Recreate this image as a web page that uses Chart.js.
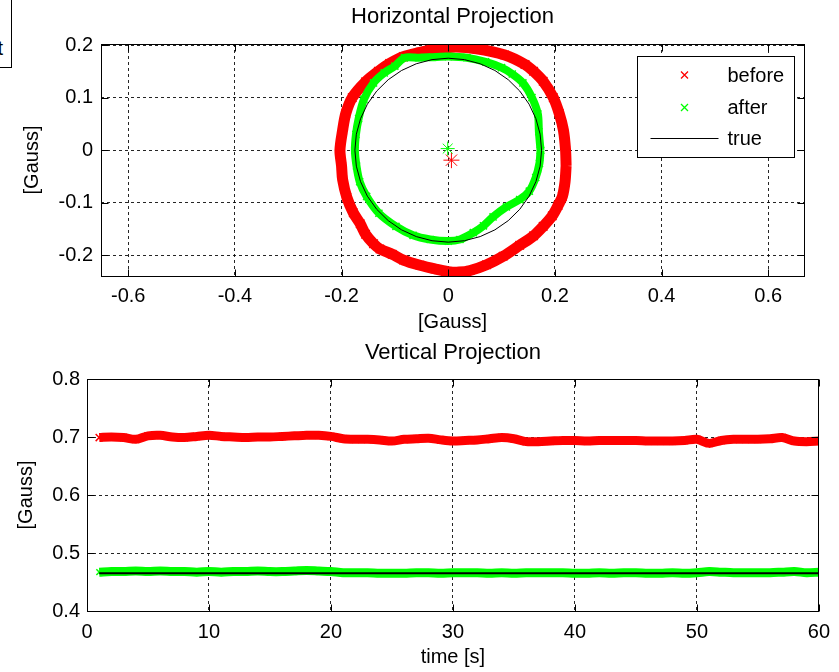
<!DOCTYPE html>
<html>
<head>
<meta charset="utf-8">
<script src="https://cdn.jsdelivr.net/npm/chart.js@4.4.0/dist/chart.umd.min.js"></script>
<style>
html,body{margin:0;padding:0;background:#fff;width:839px;height:672px;overflow:hidden;position:relative;}
#c1{position:absolute;left:0;top:0;}
#c2{position:absolute;left:0;top:336px;}
#tb{position:absolute;left:-88px;top:-2px;width:100px;height:70px;box-sizing:border-box;border:1px solid #000;
  font:20px "Liberation Sans",Arial,sans-serif;text-align:right;padding-right:8px;padding-top:37px;line-height:24px;color:#000;background:#fff;}
</style>
</head>
<body>
<div id="tb">t</div>
<canvas id="c1" width="839" height="336"></canvas>
<canvas id="c2" width="839" height="336"></canvas>
<script>
// ---------- Top plot: Horizontal Projection ----------
const topXTicks = [-0.6, -0.4, -0.2, 0, 0.2, 0.4, 0.6];
const topYTicks = [-0.2, -0.1, 0, 0.1, 0.2];

const beforeX = [0.221, 0.220, 0.216, 0.208, 0.197, 0.178, 0.160, 0.144, 0.106, 0.053, 0.009, -0.030, -0.053, -0.084, -0.110, -0.131, -0.155, -0.180, -0.192, -0.198, -0.203, -0.200, -0.198, -0.190, -0.178, -0.165, -0.155, -0.140, -0.128, -0.105, -0.084, -0.053, -0.025, 0.000, 0.020, 0.041, 0.072, 0.103, 0.134, 0.160, 0.178, 0.195, 0.206, 0.214, 0.219, 0.221];
const beforeY = [-0.030, 0.000, 0.038, 0.070, 0.100, 0.131, 0.150, 0.163, 0.181, 0.193, 0.196, 0.191, 0.186, 0.178, 0.165, 0.150, 0.130, 0.100, 0.070, 0.038, 0.000, -0.030, -0.056, -0.090, -0.119, -0.140, -0.160, -0.178, -0.188, -0.198, -0.209, -0.219, -0.226, -0.231, -0.232, -0.229, -0.218, -0.202, -0.181, -0.163, -0.145, -0.125, -0.105, -0.088, -0.060, -0.030];

const afterX = [0.173, 0.170, 0.168, 0.157, 0.140, 0.120, 0.100, 0.070, 0.035, 0.000, -0.030, -0.055, -0.082, -0.100, -0.120, -0.140, -0.158, -0.168, -0.173, -0.175, -0.172, -0.166, -0.153, -0.130, -0.098, -0.066, -0.034, 0.000, 0.022, 0.047, 0.066, 0.084, 0.109, 0.134, 0.152, 0.164, 0.171, 0.173];
const afterY = [0.000, 0.035, 0.069, 0.100, 0.128, 0.145, 0.157, 0.168, 0.176, 0.178, 0.177, 0.176, 0.176, 0.160, 0.147, 0.128, 0.097, 0.060, 0.030, 0.000, -0.030, -0.060, -0.088, -0.120, -0.145, -0.162, -0.170, -0.173, -0.170, -0.157, -0.144, -0.127, -0.108, -0.094, -0.078, -0.052, -0.025, 0.000];

const trueX = [0.175, 0.1723, 0.1644, 0.1516, 0.1341, 0.1125, 0.0875, 0.0599, 0.0304, 0, -0.0304, -0.0599, -0.0875, -0.1125, -0.1341, -0.1516, -0.1644, -0.1723, -0.175, -0.1723, -0.1644, -0.1516, -0.1341, -0.1125, -0.0875, -0.0599, -0.0304, 0, 0.0304, 0.0599, 0.0875, 0.1125, 0.1341, 0.1516, 0.1644, 0.1723, 0.175];
const trueY = [0, 0.0304, 0.0599, 0.0875, 0.1125, 0.1341, 0.1516, 0.1644, 0.1723, 0.175, 0.1723, 0.1644, 0.1516, 0.1341, 0.1125, 0.0875, 0.0599, 0.0304, 0, -0.0304, -0.0599, -0.0875, -0.1125, -0.1341, -0.1516, -0.1644, -0.1723, -0.175, -0.1723, -0.1644, -0.1516, -0.1341, -0.1125, -0.0875, -0.0599, -0.0304, 0];

const beforeCenter = [0.006, -0.019];
const afterCenter = [-0.001, 0.003];

// ---------- Bottom plot: Vertical Projection ----------
const bottomXTicks = [0, 10, 20, 30, 40, 50, 60];
const bottomYTicks = [0.4, 0.5, 0.6, 0.7, 0.8];
const timeS = [1,2,3,4,5,6,7,8,9,10,11,12,13,14,15,16,17,18,19,20,21,22,23,24,25,26,27,28,29,30,31,32,33,34,35,36,37,38,39,40,41,42,43,44,45,46,47,48,49,50,51,52,53,54,55,56,57,58,59,60];
const vBefore = [0.699,0.700,0.699,0.696,0.702,0.703,0.700,0.699,0.701,0.703,0.701,0.700,0.699,0.700,0.700,0.701,0.702,0.703,0.703,0.701,0.697,0.696,0.696,0.695,0.693,0.696,0.697,0.698,0.695,0.693,0.694,0.695,0.697,0.699,0.697,0.692,0.692,0.693,0.694,0.694,0.693,0.694,0.694,0.694,0.694,0.693,0.693,0.693,0.694,0.696,0.689,0.694,0.696,0.696,0.696,0.697,0.699,0.693,0.692,0.693];
const vAfter = [0.467,0.468,0.468,0.469,0.468,0.469,0.468,0.468,0.467,0.468,0.467,0.468,0.468,0.469,0.468,0.468,0.469,0.470,0.469,0.468,0.466,0.466,0.466,0.465,0.465,0.465,0.466,0.466,0.465,0.466,0.466,0.466,0.465,0.466,0.465,0.466,0.466,0.466,0.466,0.465,0.465,0.466,0.465,0.466,0.466,0.465,0.465,0.466,0.465,0.466,0.468,0.467,0.466,0.466,0.466,0.466,0.467,0.468,0.466,0.467];
const trueT = [1, 60];
const vTrue = [0.465, 0.465];

// ---------- helpers ----------
const FONT = '"Liberation Sans", Arial, Helvetica, sans-serif';
Chart.defaults.font.family = FONT;
Chart.defaults.font.size = 20;
Chart.defaults.color = '#000';
const RED = '#ff0000', GREEN = '#00ff00', BLACK = '#000000';
const pts = (xs, ys) => xs.map((x, i) => ({x: x, y: ys[i]}));
const fmt = v => String(+Number(v).toFixed(2));
const setTicks = arr => (s) => { s.ticks = arr.map(v => ({value: v})); };

const framePlugin = {
  id: 'frame',
  afterDraw(chart) {
    const {ctx, chartArea: a, scales} = chart;
    const L = Math.floor(a.left) + 0.5, R = Math.floor(a.right) + 0.5;
    const T = Math.floor(a.top) + 0.5, B = Math.floor(a.bottom) + 0.5;
    ctx.save();
    ctx.setLineDash([]);
    ctx.strokeStyle = '#000';
    ctx.lineWidth = 1;
    ctx.strokeRect(L, T, R - L, B - T);
    const tl = 7;
    ctx.beginPath();
    scales.x.ticks.forEach(t => {
      const p = Math.round(scales.x.getPixelForValue(t.value)) + 0.5;
      ctx.moveTo(p, B); ctx.lineTo(p, B - tl);
      ctx.moveTo(p, T); ctx.lineTo(p, T + tl);
    });
    scales.y.ticks.forEach(t => {
      const p = Math.round(scales.y.getPixelForValue(t.value)) + 0.5;
      ctx.moveTo(L, p); ctx.lineTo(L + tl, p);
      ctx.moveTo(R, p); ctx.lineTo(R - tl, p);
    });
    ctx.stroke();
    ctx.restore();
  }
};

const legendPlugin = {
  id: 'boxLegend',
  afterDraw(chart) {
    if (!chart.options.plugins.boxLegend || !chart.options.plugins.boxLegend.show) return;
    const {ctx, chartArea: a} = chart;
    const bw = 157, bh = 101;
    const bx = Math.round(a.right - 10 - bw) + 0.5, by = Math.round(a.top + 12) + 0.5;
    ctx.save();
    ctx.setLineDash([]);
    ctx.fillStyle = '#fff';
    ctx.fillRect(bx, by, bw, bh);
    ctx.strokeStyle = '#000';
    ctx.lineWidth = 1;
    ctx.strokeRect(bx, by, bw, bh);
    const items = chart.data.datasets.filter(d => d.inLegend).sort((p, q) => p.legendPos - q.legendPos);
    const rows = [18.5, 51, 82];
    ctx.font = '20px ' + FONT;
    ctx.textBaseline = 'middle';
    ctx.textAlign = 'left';
    items.forEach((d, i) => {
      const y = by + rows[i];
      ctx.strokeStyle = d.borderColor;
      ctx.beginPath();
      if (d.legendLine) {
        ctx.lineWidth = 1;
        ctx.moveTo(bx + 13, y); ctx.lineTo(bx + 81, y);
      } else {
        ctx.lineWidth = 1.3;
        const cx = bx + 47, r = 3.5;
        ctx.moveTo(cx - r, y - r); ctx.lineTo(cx + r, y + r);
        ctx.moveTo(cx - r, y + r); ctx.lineTo(cx + r, y - r);
      }
      ctx.stroke();
      ctx.fillStyle = '#000';
      ctx.fillText(d.label, bx + 90, y + 1);
    });
    ctx.restore();
  }
};

const gridOpts = {color: 'rgba(0,0,0,0.85)', lineWidth: 1, drawTicks: false};
const borderOpts = {display: false, dash: [3, 3]};

// ---------- Top chart ----------
new Chart(document.getElementById('c1'), {
  type: 'scatter',
  data: {
    datasets: [
      {label: 'true', data: pts(trueX, trueY), showLine: true, borderColor: BLACK, borderWidth: 1, pointRadius: 0, tension: 0, order: 1, inLegend: true, legendPos: 2, legendLine: true},
      {label: 'after', data: pts(afterX, afterY), showLine: true, borderColor: GREEN, backgroundColor: GREEN, borderWidth: 8, tension: 0.3, pointStyle: 'crossRot', pointRadius: 5, pointBorderWidth: 1.5, order: 2, inLegend: true, legendPos: 1},
      {label: 'before', data: pts(beforeX, beforeY), showLine: true, borderColor: RED, backgroundColor: RED, borderWidth: 11, tension: 0.3, pointStyle: 'crossRot', pointRadius: 6, pointBorderWidth: 1.5, order: 3, inLegend: true, legendPos: 0},
      {label: 'after mean', data: [{x: afterCenter[0], y: afterCenter[1]}], borderColor: GREEN, pointStyle: 'star', pointRadius: 7, pointBorderWidth: 1, order: 0},
      {label: 'before mean', data: [{x: beforeCenter[0], y: beforeCenter[1]}], borderColor: RED, pointStyle: 'star', pointRadius: 8, pointBorderWidth: 1, order: 0}
    ]
  },
  options: {
    responsive: false, animation: false, devicePixelRatio: 1, events: [],
    layout: {padding: {left: 0, right: 35, top: 0, bottom: 0}},
    plugins: {
      legend: {display: false}, tooltip: {enabled: false},
      title: {display: true, fullSize: false, text: 'Horizontal Projection', color: '#000', font: {size: 22, weight: 'normal'}, padding: {top: 4, bottom: 13.6}},
      boxLegend: {show: true}
    },
    scales: {
      x: {
        type: 'linear', min: -0.651, max: 0.667,
        afterBuildTicks: setTicks(topXTicks),
        afterFit: s => { s.height = 60; },
        ticks: {padding: 8, autoSkip: false, maxRotation: 0, callback: v => fmt(v)},
        grid: gridOpts, border: borderOpts,
        title: {display: true, text: '[Gauss]', padding: {top: 0, bottom: 2}}
      },
      y: {
        type: 'linear', min: -0.2394, max: 0.202,
        afterBuildTicks: setTicks(topYTicks),
        afterFit: s => { s.width = 101; },
        ticks: {padding: 8, autoSkip: false, callback: v => fmt(v)},
        grid: gridOpts, border: borderOpts,
        title: {display: true, text: '[Gauss]', padding: {top: 20, bottom: 0}}
      }
    }
  },
  plugins: [framePlugin, legendPlugin]
});

// ---------- Bottom chart ----------
new Chart(document.getElementById('c2'), {
  type: 'scatter',
  data: {
    datasets: [
      {label: 'true', data: pts(trueT, vTrue), showLine: true, borderColor: BLACK, borderWidth: 2, pointRadius: 0, order: 1},
      {label: 'after', data: pts(timeS, vAfter), showLine: true, borderColor: GREEN, backgroundColor: GREEN, borderWidth: 9, tension: 0.3, pointStyle: 'crossRot', pointRadius: 4, pointBorderWidth: 1.5, order: 2},
      {label: 'before', data: pts(timeS, vBefore), showLine: true, borderColor: RED, backgroundColor: RED, borderWidth: 9, tension: 0.3, pointStyle: 'crossRot', pointRadius: 5, pointBorderWidth: 1.5, order: 3}
    ]
  },
  options: {
    responsive: false, animation: false, devicePixelRatio: 1, events: [],
    layout: {padding: {left: 0, right: 20, top: 0, bottom: 0}},
    plugins: {
      legend: {display: false}, tooltip: {enabled: false},
      title: {display: true, fullSize: false, text: 'Vertical Projection', color: '#000', font: {size: 22, weight: 'normal'}, padding: {top: 4, bottom: 12.6}}
    },
    scales: {
      x: {
        type: 'linear', min: 0, max: 60,
        afterBuildTicks: setTicks(bottomXTicks),
        afterFit: s => { s.height = 61; },
        ticks: {padding: 9, autoSkip: false, maxRotation: 0, callback: v => fmt(v)},
        grid: gridOpts, border: borderOpts,
        title: {display: true, text: 'time [s]', padding: {top: 0, bottom: 3}}
      },
      y: {
        type: 'linear', min: 0.4, max: 0.8,
        afterBuildTicks: setTicks(bottomYTicks),
        afterFit: s => { s.width = 87; },
        ticks: {padding: 7, autoSkip: false, callback: v => fmt(v)},
        grid: gridOpts, border: borderOpts,
        title: {display: true, text: '[Gauss]', padding: {top: 14, bottom: 0}}
      }
    }
  },
  plugins: [framePlugin]
});
</script>
</body>
</html>
